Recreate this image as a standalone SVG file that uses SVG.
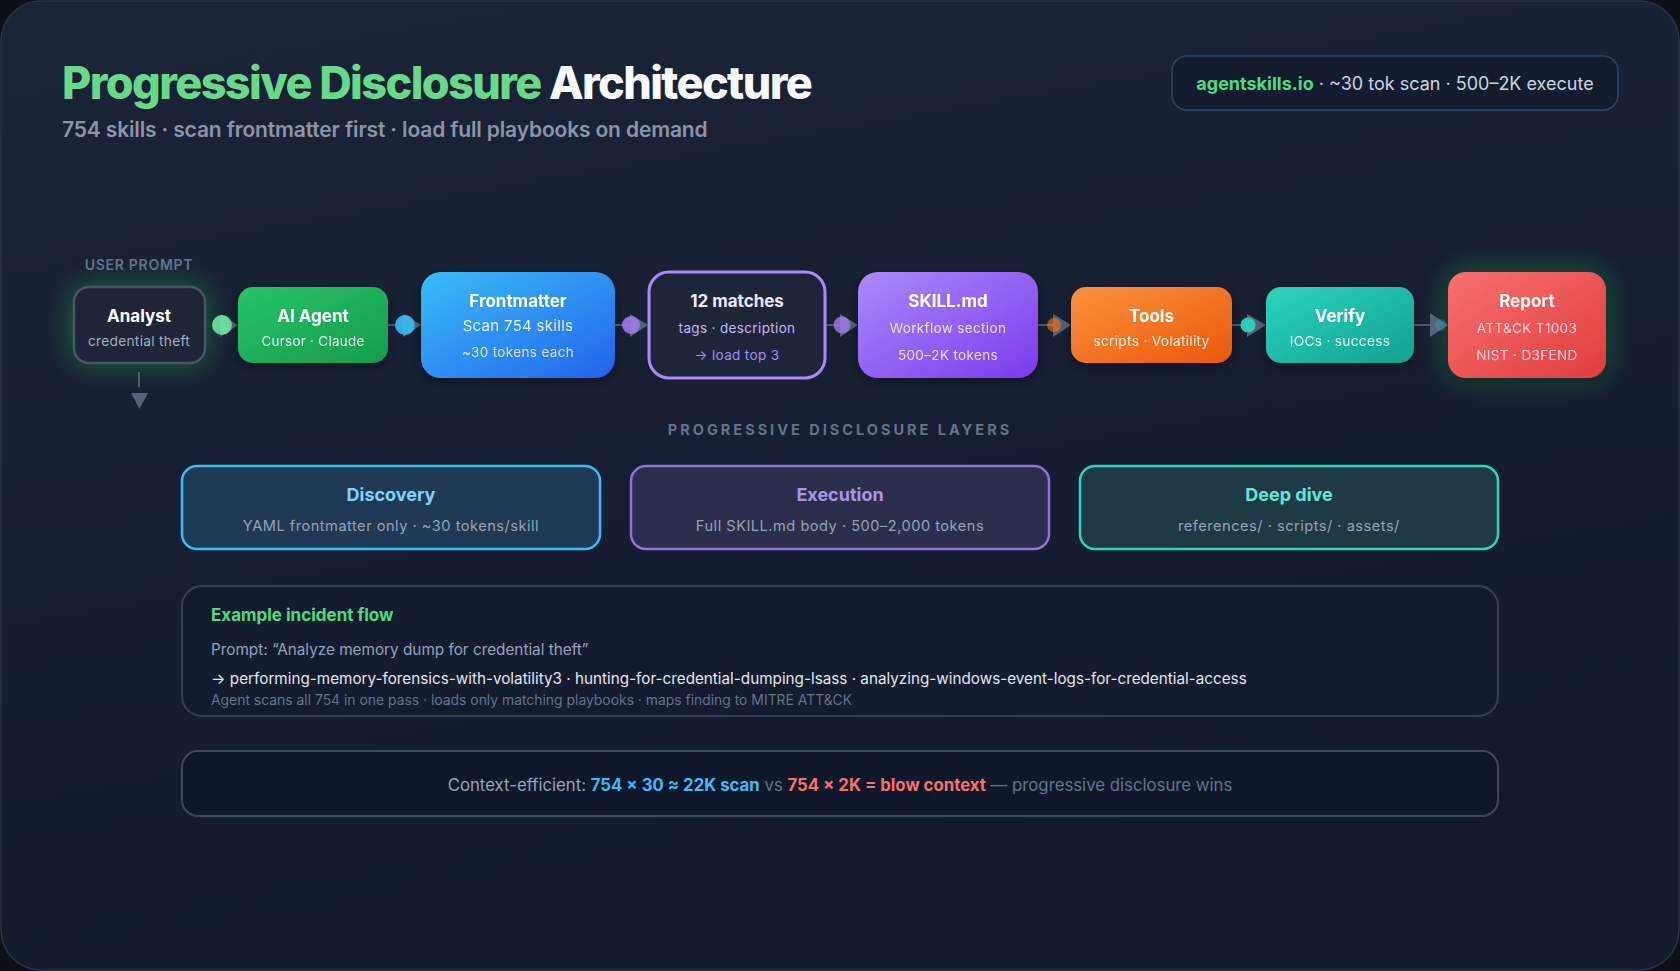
<svg xmlns="http://www.w3.org/2000/svg" width="1680" height="971" viewBox="0 0 1680 971">
<defs>
<linearGradient id="bg" x1="0" y1="0" x2="0.3" y2="1"><stop offset="0" stop-color="#1b2336"/><stop offset="1" stop-color="#131a2d"/></linearGradient>
<linearGradient id="gGreen" x1="0" y1="0" x2="1" y2="1"><stop offset="0" stop-color="#26c565"/><stop offset="1" stop-color="#17994f"/></linearGradient>
<linearGradient id="gBlue" x1="0" y1="0" x2="1" y2="1"><stop offset="0" stop-color="#38bdf8"/><stop offset="1" stop-color="#2563eb"/></linearGradient>
<linearGradient id="gPurple" x1="0" y1="0" x2="1" y2="1"><stop offset="0" stop-color="#a98bfa"/><stop offset="1" stop-color="#7c3aed"/></linearGradient>
<linearGradient id="gOrange" x1="0" y1="0" x2="1" y2="1"><stop offset="0" stop-color="#fb923c"/><stop offset="1" stop-color="#ea580c"/></linearGradient>
<linearGradient id="gTeal" x1="0" y1="0" x2="1" y2="1"><stop offset="0" stop-color="#2dd4bf"/><stop offset="1" stop-color="#12a090"/></linearGradient>
<linearGradient id="gRed" x1="0" y1="0" x2="1" y2="1"><stop offset="0" stop-color="#f87171"/><stop offset="1" stop-color="#e03c3c"/></linearGradient>
<filter id="shadow" x="-20%" y="-20%" width="140%" height="150%"><feDropShadow dx="0" dy="4" stdDeviation="6" flood-color="#000" flood-opacity="0.35"/></filter>
<filter id="glow" x="-40%" y="-50%" width="180%" height="200%"><feGaussianBlur stdDeviation="14"/></filter>
<style>
text{font-family:Inter,"Liberation Sans",sans-serif}
.nt{font-size:17px;font-weight:700;fill:#fff;text-anchor:middle}
.ns{font-size:13.7px;fill:rgba(255,255,255,0.88);text-anchor:middle;letter-spacing:0.3px}
.ns2{font-size:13.5px;fill:rgba(255,255,255,0.8);text-anchor:middle;letter-spacing:0.35px}
.tri{fill:#64748b;opacity:0.8}
.ln{stroke:#64748b;stroke-width:2;opacity:0.7}
.lt{font-size:18px;font-weight:700;text-anchor:middle}
.ls{font-size:14.6px;fill:#94a3b8;text-anchor:middle;letter-spacing:0.5px}
</style>
</defs>
<rect x="0" y="0" width="1680" height="971" fill="#0d1117"/>
<rect x="1" y="1" width="1678" height="969" rx="40" fill="url(#bg)" stroke="#2a3446" stroke-width="1.5"/>

<g id="title">
<text x="62" y="99" font-size="45" font-weight="800" letter-spacing="-1.6"><tspan fill="#68d98b">Progressive Disclosure</tspan><tspan fill="#f8fafc"> Architecture</tspan></text>
<text x="62" y="137" font-size="21" font-weight="600" fill="#8b95a8" letter-spacing="-0.15">754 skills · scan frontmatter first · load full playbooks on demand</text>
</g>

<g id="badge">
<rect x="1172" y="56" width="446" height="54" rx="15" fill="#131b2e" stroke="#2d4566" stroke-width="1.5"/>
<text x="1395" y="90" font-size="18" text-anchor="middle" fill="#cbd5e1"><tspan fill="#4ade80" font-weight="700">agentskills.io</tspan> · ~30 tok scan · 500–2K execute</text>
</g>

<g id="glows">
<rect x="73" y="286" width="133" height="78" rx="15" fill="#22c55e" opacity="0.45" filter="url(#glow)"/>
<rect x="1448" y="272" width="158" height="106" rx="18" fill="#22c55e" opacity="0.45" filter="url(#glow)"/>
</g>

<g id="connectors">
<line class="ln" x1="139" y1="372" x2="139" y2="387"/>
<polygon class="tri" points="131,393 148,393 139.5,409"/>
<polygon class="tri" points="220,314 238,325 220,337"/>
<circle cx="222" cy="325" r="10" fill="#6ee7a0" opacity="0.9"/>
<line class="ln" x1="388" y1="325" x2="404" y2="325"/>
<polygon class="tri" points="403,314 421,325 403,337"/>
<circle cx="405" cy="325" r="10" fill="#38bdf8" opacity="0.9"/>
<line class="ln" x1="615" y1="325" x2="631" y2="325"/>
<polygon class="tri" points="630,314 648,325 630,337"/>
<circle cx="631" cy="325" r="9" fill="#9f7aea" opacity="0.9"/>
<line class="ln" x1="826" y1="325" x2="841" y2="325"/>
<polygon class="tri" points="840,314 858,325 840,337"/>
<circle cx="842" cy="325" r="8.5" fill="#9f7aea" opacity="0.8"/>
<line class="ln" x1="1038" y1="325" x2="1054" y2="325"/>
<polygon class="tri" points="1053,314 1071,325 1053,337"/>
<circle cx="1054" cy="325" r="7" fill="#f97316" opacity="0.6"/>
<line class="ln" x1="1232" y1="325" x2="1248" y2="325"/>
<polygon class="tri" points="1247,314 1266,325 1247,337"/>
<circle cx="1248" cy="325" r="7.5" fill="#2dd4bf" opacity="0.95"/>
<line class="ln" x1="1414" y1="325" x2="1431" y2="325"/>
<polygon class="tri" points="1430,313 1448,325 1430,337"/>
<circle cx="1441" cy="325" r="6" fill="#2dd4bf" opacity="0.25"/>
</g>

<g id="node-analyst">
<text x="139" y="270" font-size="14" font-weight="600" fill="#64748b" text-anchor="middle" letter-spacing="0.7">USER PROMPT</text>
<rect x="74" y="287" width="131" height="76" rx="15" fill="#1e2536" stroke="#4b5568" stroke-width="2.5"/>
<text class="nt" x="139" y="322">Analyst</text>
<text class="ns" x="139" y="346" style="fill:#a3adbd">credential theft</text>
</g>

<g id="node-agent" filter="url(#shadow)">
<rect x="238" y="287" width="150" height="76" rx="15" fill="url(#gGreen)"/>
<text class="nt" x="313" y="322">AI Agent</text>
<text class="ns" x="313" y="346" style="font-size:13.4px">Cursor · Claude</text>
</g>

<g id="node-frontmatter" filter="url(#shadow)">
<rect x="421" y="272" width="194" height="106" rx="20" fill="url(#gBlue)"/>
<text class="nt" x="518" y="307">Frontmatter</text>
<text class="ns" x="518" y="331" style="font-size:15px">Scan 754 skills</text>
<text class="ns2" x="518" y="357">~30 tokens each</text>
</g>

<g id="node-matches">
<rect x="649" y="272" width="176" height="106" rx="20" fill="#1e2538" stroke="#a78bfa" stroke-width="3"/>
<text class="nt" x="737" y="307" style="fill:#ede9fe">12 matches</text>
<text class="ns2" x="737" y="333" style="fill:#c4b5fd">tags · description</text>
<text class="ns2" x="737" y="360" style="fill:#a78bfa">→ load top 3</text>
</g>

<g id="node-skill" filter="url(#shadow)">
<rect x="858" y="272" width="180" height="106" rx="20" fill="url(#gPurple)"/>
<text class="nt" x="948" y="307">SKILL.md</text>
<text class="ns2" x="948" y="333">Workflow section</text>
<text class="ns2" x="948" y="360">500–2K tokens</text>
</g>

<g id="node-tools" filter="url(#shadow)">
<rect x="1071" y="287" width="161" height="76" rx="15" fill="url(#gOrange)"/>
<text class="nt" x="1151.5" y="322">Tools</text>
<text class="ns" x="1151.5" y="346">scripts · Volatility</text>
</g>

<g id="node-verify" filter="url(#shadow)">
<rect x="1266" y="287" width="148" height="76" rx="15" fill="url(#gTeal)"/>
<text class="nt" x="1340" y="322">Verify</text>
<text class="ns" x="1340" y="346">IOCs · success</text>
</g>

<g id="node-report" filter="url(#shadow)">
<rect x="1448" y="272" width="158" height="106" rx="18" fill="url(#gRed)"/>
<text class="nt" x="1527" y="307">Report</text>
<text class="ns2" x="1527" y="333" style="fill:#fdd5d5">ATT&amp;CK T1003</text>
<text class="ns2" x="1527" y="360" style="fill:#fdd5d5">NIST · D3FEND</text>
</g>

<g id="layers">
<text x="840" y="435" font-size="14.5" font-weight="700" fill="#64748b" text-anchor="middle" letter-spacing="3">PROGRESSIVE DISCLOSURE LAYERS</text>
</g>
<g id="layer-discovery">
<rect x="182" y="466" width="418" height="83" rx="15" fill="#1f3a54" stroke="#38bdf8" stroke-width="2.5"/>
<text class="lt" x="391" y="501" fill="#7dd3fc">Discovery</text>
<text class="ls" x="391" y="531">YAML frontmatter only · ~30 tokens/skill</text>
</g>
<g id="layer-execution">
<rect x="631" y="466" width="418" height="83" rx="15" fill="#2b2f4d" stroke="#9075d8" stroke-width="2.5"/>
<text class="lt" x="840" y="501" fill="#a996e6">Execution</text>
<text class="ls" x="840" y="531">Full SKILL.md body · 500–2,000 tokens</text>
</g>
<g id="layer-deepdive">
<rect x="1080" y="466" width="418" height="83" rx="15" fill="#1e3a45" stroke="#2dd4bf" stroke-width="2.5"/>
<text class="lt" x="1289" y="501" fill="#5eead4">Deep dive</text>
<text class="ls" x="1289" y="531">references/ · scripts/ · assets/</text>
</g>

<g id="example">
<rect x="182" y="586" width="1316" height="130" rx="20" fill="#131b2e" stroke="#334155" stroke-width="2"/>
<text x="211" y="621" font-size="17" font-weight="700" fill="#4ade80">Example incident flow</text>
<text x="211" y="655" font-size="15.3" fill="#94a3b8">Prompt: “Analyze memory dump for credential theft”</text>
<text x="211" y="684" font-size="15.25" fill="#e2e8f0">→ performing-memory-forensics-with-volatility3 · hunting-for-credential-dumping-lsass · analyzing-windows-event-logs-for-credential-access</text>
<text x="211" y="705" font-size="13.9" fill="#64748b">Agent scans all 754 in one pass · loads only matching playbooks · maps finding to MITRE ATT&amp;CK</text>
</g>

<g id="summary">
<rect x="182" y="751" width="1316" height="65" rx="16" fill="#0f172a" stroke="#3a4a62" stroke-width="2"/>
<text x="840" y="791" font-size="16.75" text-anchor="middle" fill="#94a3b8">Context-efficient: <tspan fill="#38bdf8" font-weight="700">754 × 30 ≈ 22K scan</tspan><tspan fill="#64748b"> vs </tspan><tspan fill="#f87171" font-weight="700">754 × 2K = blow context</tspan><tspan fill="#64748b"> — progressive disclosure wins</tspan></text>
</g>
</svg>
